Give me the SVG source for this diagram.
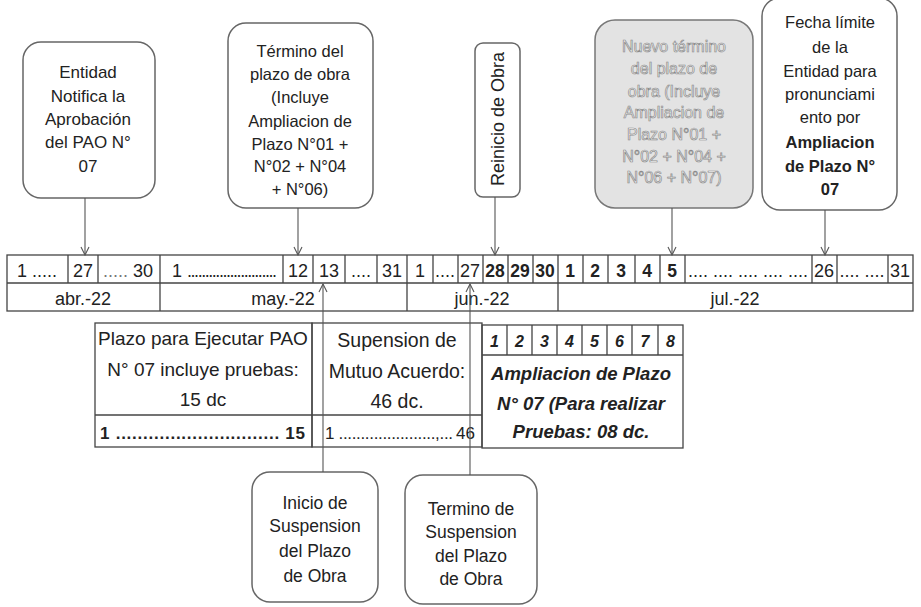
<svg xmlns="http://www.w3.org/2000/svg" width="921" height="607" viewBox="0 0 921 607">
<defs>
<style>
.t{font-family:"Liberation Sans",Arial,sans-serif;fill:#222;}
.bx{fill:#fff;stroke:#666;stroke-width:1.5;}
.bxg{fill:#e3e3e3;stroke:#777;stroke-width:1.5;}
.ln{stroke:#444;stroke-width:1.3;fill:none;}
.cn{stroke:#555;stroke-width:1.1;fill:none;}
.c17{font-size:17px;text-anchor:middle;}
.c165{font-size:16.5px;text-anchor:middle;}
.n{font-size:18px;}
.nb{font-size:17.5px;font-weight:bold;}
.m{text-anchor:middle;}
.ghost{fill:#fafafa;stroke:#8a8a8a;stroke-width:0.7;}
</style>
<marker id="ah" markerWidth="10" markerHeight="10" refX="9" refY="5" orient="auto" markerUnits="userSpaceOnUse">
<path d="M1,1 L9,5 L1,9" fill="none" stroke="#555" stroke-width="1.1"/>
</marker>
</defs>
<rect width="921" height="607" fill="#fff"/>

<g id="timeline">
<rect class="ln" x="7" y="255" width="906" height="56"/>
<line class="ln" x1="7" y1="283" x2="913" y2="283"/>
<path class="ln" d="M68,255V283M98,255V283M160,255V311M283,255V283M313,255V283M345,255V283M377,255V283M407,255V311M433,255V283M458,255V283M483,255V283M508,255V283M533,255V283M558,255V311M583,255V283M608,255V283M635,255V283M660,255V283M685,255V283M812,255V283M837,255V283M888,255V283"/>
<g class="t n">
<text x="17" y="277">1 .....</text>
<text x="83" y="277" class="m">27</text>
<text x="103" y="277" fill="#777">.....</text>
<text x="153" y="277" text-anchor="end">30</text>
<text x="172" y="277">1 <tspan textLength="90" lengthAdjust="spacing">.........................</tspan></text>
<text x="298" y="277" class="m">12</text>
<text x="329" y="277" class="m">13</text>
<text x="361" y="277" class="m">....</text>
<text x="392" y="277" class="m">31</text>
<text x="420" y="277" class="m">1</text>
<text x="445" y="277" class="m">....</text>
<text x="470" y="277" class="m">27</text>
<text x="824" y="277" class="m">26</text>
<text x="862" y="277" class="m">.... ....</text>
<text x="900" y="277" class="m">31</text>
<text x="748" y="277" class="m">.... .... .... .... ....</text>
</g>
<g class="t nb m">
<text x="495" y="277">28</text>
<text x="520" y="277">29</text>
<text x="545" y="277">30</text>
<text x="570" y="277">1</text>
<text x="595" y="277">2</text>
<text x="621" y="277">3</text>
<text x="647" y="277">4</text>
<text x="672" y="277">5</text>
</g>
<g class="t n m">
<text x="83" y="305">abr.-22</text>
<text x="283" y="305">may.-22</text>
<text x="482" y="305">jun.-22</text>
<text x="735" y="305">jul.-22</text>
</g>
</g>

<g id="tabla-pao">
<rect class="ln" x="95" y="323" width="217" height="124"/>
<line class="ln" x1="95" y1="415" x2="312" y2="415"/>
<g class="t m" font-size="19">
<text x="203" y="345">Plazo para Ejecutar PAO</text>
<text x="203" y="376">N° 07 incluye pruebas:</text>
<text x="203" y="406">15 dc</text>
</g>
<text class="t" x="100" y="439" font-size="17" font-weight="bold" textLength="205" lengthAdjust="spacing">1 .............................. 15</text>
</g>

<g id="tabla-suspension">
<rect class="ln" x="312" y="323" width="170" height="124"/>
<line class="ln" x1="312" y1="415" x2="482" y2="415"/>
<g class="t m" font-size="19.5">
<text x="397" y="347">Supension de</text>
<text x="397" y="378">Mutuo Acuerdo:</text>
<text x="397" y="408">46 dc.</text>
</g>
<text class="t" x="325" y="439" font-size="17" textLength="128" lengthAdjust="spacing">1 ......................,...</text>
<text class="t" x="475" y="439" font-size="17" text-anchor="end" fill="#888">46</text>
</g>

<g id="tabla-ampliacion">
<rect class="ln" x="482" y="325" width="201" height="123"/>
<line class="ln" x1="482" y1="355" x2="683" y2="355"/>
<path class="ln" d="M507,325V355M532,325V355M557,325V355M582,325V355M607,325V355M632,325V355M658,325V355"/>
<g class="t m" font-size="16" font-weight="bold" font-style="italic">
<text x="494.5" y="347">1</text>
<text x="519.5" y="347">2</text>
<text x="544.5" y="347">3</text>
<text x="569.5" y="347">4</text>
<text x="594.5" y="347">5</text>
<text x="619.5" y="347">6</text>
<text x="645" y="347">7</text>
<text x="670.5" y="347">8</text>
</g>
<g class="t m" font-size="18.5" font-weight="bold" font-style="italic">
<text x="581" y="380">Ampliacion de Plazo</text>
<text x="581" y="410">N° 07 (Para realizar</text>
<text x="581" y="438">Pruebas: 08 dc.</text>
</g>
</g>

<g id="n-notifica">
<rect class="bx" x="23" y="42" width="132" height="156" rx="18"/>
<g class="t c17">
<text x="88" y="78">Entidad</text>
<text x="88" y="102">Notifica la</text>
<text x="88" y="125">Aprobación</text>
<text x="88" y="148">del PAO N°</text>
<text x="88" y="172">07</text>
</g>
</g>

<g id="n-termino">
<rect class="bx" x="228" y="23" width="145" height="185" rx="18"/>
<g class="t m" font-size="16.5">
<text x="300" y="57">Término del</text>
<text x="300" y="80">plazo de obra</text>
<text x="300" y="103">(Incluye</text>
<text x="300" y="127">Ampliacion de</text>
<text x="300" y="150">Plazo N°01 +</text>
<text x="300" y="172">N°02 + N°04</text>
<text x="300" y="195">+ N°06)</text>
</g>
</g>

<g id="n-reinicio">
<rect class="bx" x="475" y="43" width="45" height="154" rx="8"/>
<text class="t m" font-size="18" transform="translate(504,119) rotate(-90)">Reinicio de Obra</text>
</g>

<g id="n-nuevo-termino">
<rect class="bxg" x="595" y="20" width="158" height="188" rx="20"/>
<g class="t m ghost" font-size="16">
<text x="674" y="52">Nuevo término</text>
<text x="674" y="74">del plazo de</text>
<text x="674" y="97">obra (Incluye</text>
<text x="674" y="118">Ampliacion de</text>
<text x="674" y="140">Plazo N°01 +</text>
<text x="674" y="162">N°02 + N°04 +</text>
<text x="674" y="183">N°06 + N°07)</text>
</g>
</g>

<g id="n-fecha-limite">
<rect class="bx" x="762" y="-2" width="135" height="212" rx="18"/>
<g class="t c165">
<text x="830" y="28">Fecha límite</text>
<text x="830" y="53">de la</text>
<text x="830" y="77">Entidad para</text>
<text x="830" y="100">pronunciami</text>
<text x="830" y="123">ento por</text>
<text x="830" y="148" font-weight="bold">Ampliacion</text>
<text x="830" y="172" font-weight="bold">de Plazo N°</text>
<text x="830" y="195" font-weight="bold">07</text>
</g>
</g>

<g id="n-inicio-suspension">
<rect class="bx" x="252" y="472" width="126" height="130" rx="18"/>
<g class="t m" font-size="17.5">
<text x="315" y="509">Inicio de</text>
<text x="315" y="532">Suspension</text>
<text x="315" y="557">del Plazo</text>
<text x="315" y="582">de Obra</text>
</g>
</g>

<g id="n-termino-suspension">
<rect class="bx" x="405" y="475" width="132" height="129" rx="18"/>
<g class="t m" font-size="17.5">
<text x="471" y="515">Termino de</text>
<text x="471" y="538">Suspension</text>
<text x="471" y="562">del Plazo</text>
<text x="471" y="585">de Obra</text>
</g>
</g>

<g id="connectors">
<line class="cn" x1="85" y1="198" x2="85" y2="255" marker-end="url(#ah)"/>
<line class="cn" x1="298" y1="208" x2="298" y2="255" marker-end="url(#ah)"/>
<line class="cn" x1="495" y1="197" x2="495" y2="255" marker-end="url(#ah)"/>
<line class="cn" x1="672" y1="208" x2="672" y2="255" marker-end="url(#ah)"/>
<line class="cn" x1="825" y1="210" x2="825" y2="255" marker-end="url(#ah)"/>
<line class="cn" x1="323" y1="472" x2="323" y2="284" marker-end="url(#ah)"/>
<line class="cn" x1="470" y1="475" x2="470" y2="284" marker-end="url(#ah)"/>
</g>
</svg>
